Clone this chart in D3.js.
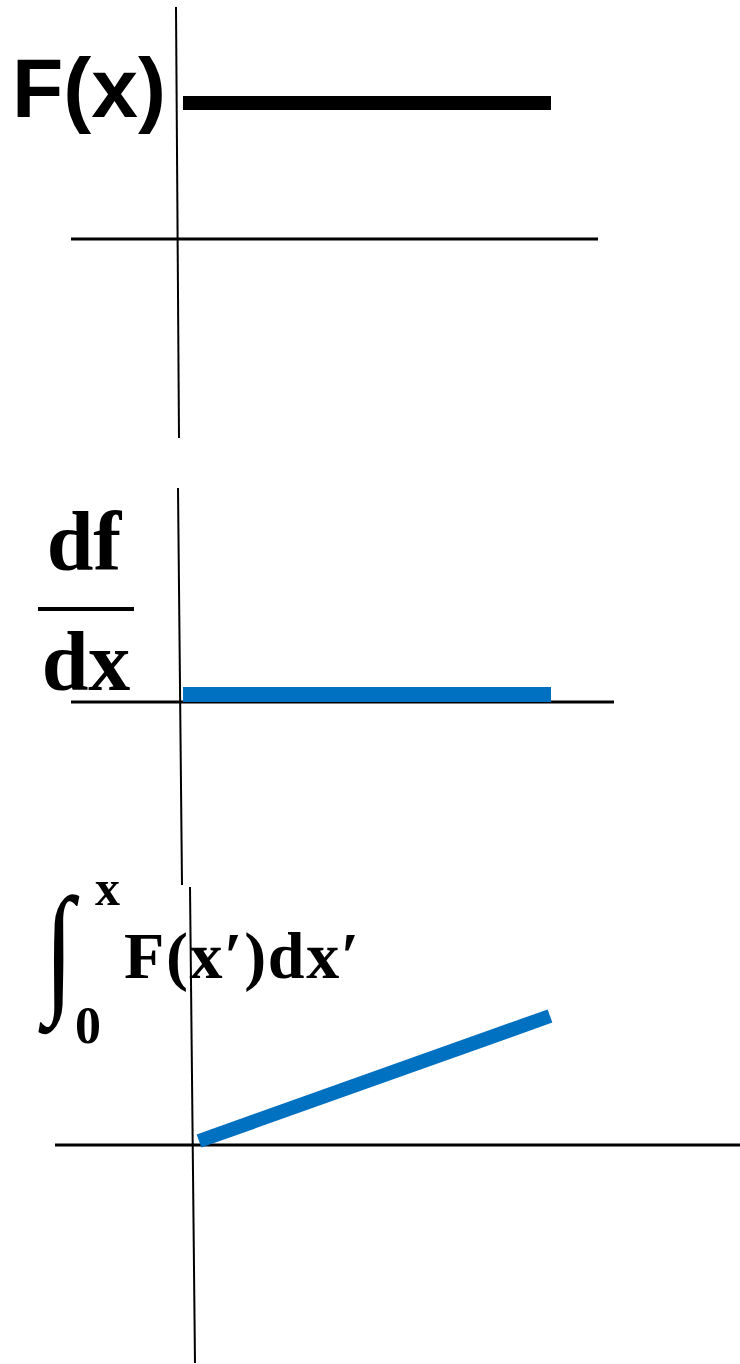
<!DOCTYPE html>
<html>
<head>
<meta charset="utf-8">
<script src="https://cdn.jsdelivr.net/npm/d3@7/dist/d3.min.js"></script>
<style>
  html, body { margin: 0; padding: 0; background: #fff; }
  svg { display: block; }
</style>
</head>
<body>
<script>
// Sample positions along x (start and end of each segment)
const xs = [0, 1];
// A constant function, its derivative and its running integral
const fValues = [1, 1];
const derivValues = [0, 0];
const integralValues = [0, 1];

const W = 740, H = 1364;
const BLUE = "#0070C0";

const svg = d3.select("body").append("svg")
  .attr("width", W).attr("height", H);

// Per-panel frames: hand-drawn axes, scales and label placement
const panels = [
  {
    values: fValues, color: "#000", width: 14, shiftUp: 0,
    x: d3.scaleLinear().domain([0, 1]).range([183, 551]),
    y: d3.scaleLinear().domain([0, 1]).range([239, 103]),
    hAxis: [[71, 239], [598, 239]],
    vAxis: [[176, 7], [179, 438]]
  },
  {
    values: derivValues, color: BLUE, width: 15, shiftUp: 7.5,
    x: d3.scaleLinear().domain([0, 1]).range([183, 551]),
    y: d3.scaleLinear().domain([0, 1]).range([702, 566]),
    hAxis: [[71, 702], [614, 702]],
    vAxis: [[178, 488], [182, 885]]
  },
  {
    values: integralValues, color: BLUE, width: 14, shiftUp: 0,
    x: d3.scaleLinear().domain([0, 1]).range([199, 550]),
    y: d3.scaleLinear().domain([0, 1]).range([1141, 1016]),
    hAxis: [[55, 1145], [740, 1145]],
    vAxis: [[190, 887], [195, 1363]]
  }
];

const line = d3.line();

panels.forEach(p => {
  const g = svg.append("g");
  // horizontal axis
  g.append("path").attr("d", line(p.hAxis))
    .attr("stroke", "#000").attr("stroke-width", 3).attr("fill", "none");
  // vertical axis
  g.append("path").attr("d", line(p.vAxis))
    .attr("stroke", "#000").attr("stroke-width", 2).attr("fill", "none");
  // the function itself
  const pts = xs.map((x, i) => [p.x(x), p.y(p.values[i]) - p.shiftUp]);
  g.append("path").attr("d", line(pts))
    .attr("stroke", p.color).attr("stroke-width", p.width)
    .attr("stroke-linecap", "butt").attr("fill", "none");
});

// Labels
svg.append("text")
  .attr("x", 12).attr("y", 117)
  .attr("font-family", "Liberation Sans, Arial, sans-serif")
  .attr("font-weight", "bold").attr("font-size", 84)
  .text("F(x)");

const serif = "Liberation Serif, Times New Roman, serif";

svg.append("text")
  .attr("x", 84).attr("y", 570).attr("text-anchor", "middle")
  .attr("font-family", serif).attr("font-weight", "bold").attr("font-size", 84)
  .text("df");
svg.append("line")
  .attr("x1", 38).attr("x2", 134).attr("y1", 609).attr("y2", 609)
  .attr("stroke", "#000").attr("stroke-width", 4);
svg.append("text")
  .attr("x", 86).attr("y", 690).attr("text-anchor", "middle")
  .attr("font-family", serif).attr("font-weight", "bold").attr("font-size", 84)
  .text("dx");

// integral expression
svg.append("text")
  .attr("transform", "translate(44,996) scale(0.72,0.95)")
  .attr("font-family", serif).attr("font-size", 150)
  .text("∫");
svg.append("text")
  .attr("x", 95).attr("y", 905)
  .attr("font-family", serif).attr("font-weight", "bold").attr("font-size", 50)
  .text("x");
svg.append("text")
  .attr("x", 75).attr("y", 1043)
  .attr("font-family", serif).attr("font-weight", "bold").attr("font-size", 52)
  .text("0");
svg.append("text")
  .attr("x", 124).attr("y", 978)
  .attr("font-family", serif).attr("font-weight", "bold").attr("font-size", 66)
  .attr("letter-spacing", 1.6)
  .text("F(x′)dx′");
</script>
</body>
</html>
